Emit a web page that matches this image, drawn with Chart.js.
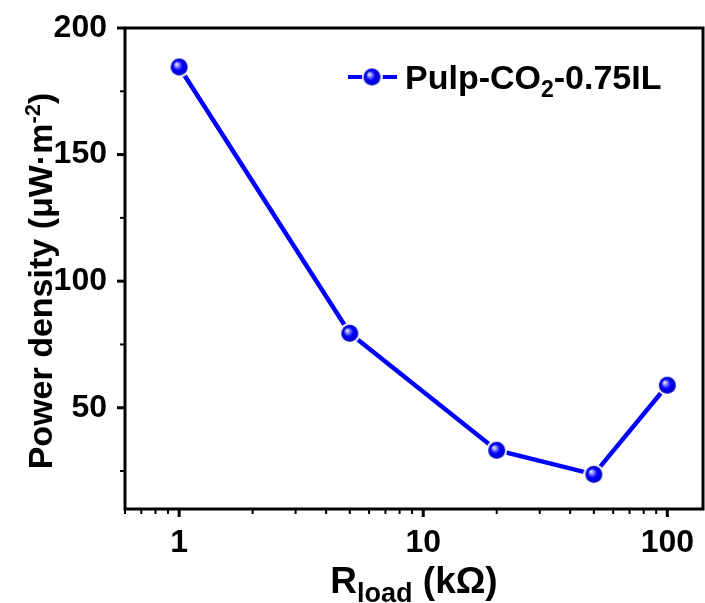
<!DOCTYPE html>
<html>
<head>
<meta charset="utf-8">
<title>Power density vs load</title>
<script src="https://cdn.jsdelivr.net/npm/chart.js@4.4.0/dist/chart.umd.min.js"></script>
<style>
  html, body { margin: 0; padding: 0; background: #fff; overflow: hidden; }
  #powerChart { display: block; }
</style>
</head>
<body>
<canvas id="powerChart" width="705" height="603"></canvas>
<script>
// data
const loadValues = [1, 5, 20, 50, 100];               // R_load, kΩ
const powerValues = [184.6, 79.4, 33.2, 23.7, 58.9];  // µW·m-2
const xTickLabels = [1, 10, 100];
const yTickLabels = [50, 100, 150, 200];
const xMinorTicks = [0.6, 0.7, 0.8, 0.9, 2, 3, 4, 5, 6, 7, 8, 9, 20, 30, 40, 50, 60, 70, 80, 90];
const yMinorTicks = [25, 75, 125, 175];
const seriesName = ["Pulp-CO", "2", "-0.75IL"];

const FONT = "'Liberation Sans', Arial, Helvetica, sans-serif";
const BLUE = "#0000ff";

// shaded ball marker, with a white ring so the line stops short of it
function makeSphere(r) {
  const pad = 2;
  const size = 2 * (r + pad);
  const c = document.createElement("canvas");
  c.width = c.height = size;
  const g = c.getContext("2d");
  const m = size / 2;
  g.fillStyle = "#fff";
  g.beginPath(); g.arc(m, m, r + pad, 0, Math.PI * 2); g.fill();
  const grad = g.createRadialGradient(m - r * 0.35, m - r * 0.35, 0, m, m, r);
  grad.addColorStop(0, "#ffffff");
  grad.addColorStop(0.22, "#9a9aff");
  grad.addColorStop(0.55, "#0000ff");
  grad.addColorStop(1, "#0000c0");
  g.fillStyle = grad;
  g.beginPath(); g.arc(m, m, r, 0, Math.PI * 2); g.fill();
  return c;
}
const sphere = makeSphere(8.5);

// draw a run of [text, size, yShift] pieces, returns total width
function drawParts(ctx, parts, x, y, doDraw) {
  let cx = x;
  parts.forEach(([txt, size, dy]) => {
    ctx.font = "bold " + size + "px " + FONT;
    if (doDraw) ctx.fillText(txt, cx, y + dy);
    cx += ctx.measureText(txt).width;
  });
  return cx - x;
}

const framePlugin = {
  id: "frame",
  afterDraw(chart) {
    const ctx = chart.ctx;
    const a = chart.chartArea;
    const xs = chart.scales.x, ys = chart.scales.y;
    ctx.save();
    ctx.strokeStyle = "#000";
    ctx.fillStyle = "#000";

    // box
    ctx.lineWidth = 3;
    ctx.strokeRect(a.left, a.top, a.right - a.left, a.bottom - a.top);

    // outward tick marks
    const tick = (x1, y1, x2, y2, w) => {
      ctx.lineWidth = w;
      ctx.beginPath(); ctx.moveTo(x1, y1); ctx.lineTo(x2, y2); ctx.stroke();
    };
    xTickLabels.forEach(v => { const p = xs.getPixelForValue(v); tick(p, a.bottom, p, a.bottom + 8, 3); });
    xMinorTicks.forEach(v => { const p = xs.getPixelForValue(v); tick(p, a.bottom, p, a.bottom + 5, 2); });
    yTickLabels.forEach(v => { const p = ys.getPixelForValue(v); tick(a.left, p, a.left - 8, p, 3); });
    yMinorTicks.forEach(v => { const p = ys.getPixelForValue(v); tick(a.left, p, a.left - 5, p, 2); });

    // x title
    ctx.textBaseline = "alphabetic";
    ctx.textAlign = "left";
    const xt = [["R", 37, 0], ["load", 27, 9], [" (kΩ)", 37, 0]];
    const xw = drawParts(ctx, xt, 0, 0, false);
    drawParts(ctx, xt, (a.left + a.right) / 2 - xw / 2, 593, true);

    // y title
    const yt = [["Power density (μW·m", 34, 0], ["-2", 22, -12], [")", 34, 0]];
    const yw = drawParts(ctx, yt, 0, 0, false);
    ctx.save();
    ctx.translate(52, 281);
    ctx.rotate(-Math.PI / 2);
    drawParts(ctx, yt, -yw / 2, 0, true);
    ctx.restore();

    // legend
    ctx.strokeStyle = BLUE;
    tick(348, 77, 397, 77, 4);
    ctx.drawImage(sphere, 372 - sphere.width / 2, 77 - sphere.height / 2);
    ctx.fillStyle = "#000";
    drawParts(ctx, [[seriesName[0], 34, 0], [seriesName[1], 23, 8], [seriesName[2], 34, 0]], 405, 89, true);

    ctx.restore();
  }
};

const tickFont = { family: FONT, size: 32, weight: "bold" };

new Chart(document.getElementById("powerChart"), {
  type: "line",
  data: {
    datasets: [{
      label: seriesName.join(""),
      data: loadValues.map((x, i) => ({ x: x, y: powerValues[i] })),
      borderColor: BLUE,
      borderWidth: 4.5,
      tension: 0,
      pointStyle: sphere,
      pointRadius: 10,
      pointHoverRadius: 10
    }]
  },
  options: {
    responsive: false,
    animation: false,
    devicePixelRatio: 1,
    layout: { autoPadding: false, padding: { top: 28, right: 2, left: 0, bottom: 0 } },
    plugins: {
      legend: { display: false },
      tooltip: { enabled: false }
    },
    scales: {
      x: {
        type: "logarithmic",
        min: 0.6,
        max: 140,
        afterBuildTicks: s => { s.ticks = xTickLabels.map(v => ({ value: v })); },
        afterFit: s => { s.height = 94; s.paddingLeft = 0; s.paddingRight = 0; },
        grid: { display: false },
        border: { display: false },
        ticks: { color: "#000", font: tickFont, padding: 7, maxRotation: 0, callback: v => String(v) }
      },
      y: {
        min: 10,
        max: 200,
        afterBuildTicks: s => { s.ticks = yTickLabels.map(v => ({ value: v })); },
        afterFit: s => { s.width = 125; s.paddingTop = 0; s.paddingBottom = 0; },
        grid: { display: false },
        border: { display: false },
        ticks: { color: "#000", font: tickFont, padding: 10 }
      }
    }
  },
  plugins: [framePlugin]
});
</script>
</body>
</html>
